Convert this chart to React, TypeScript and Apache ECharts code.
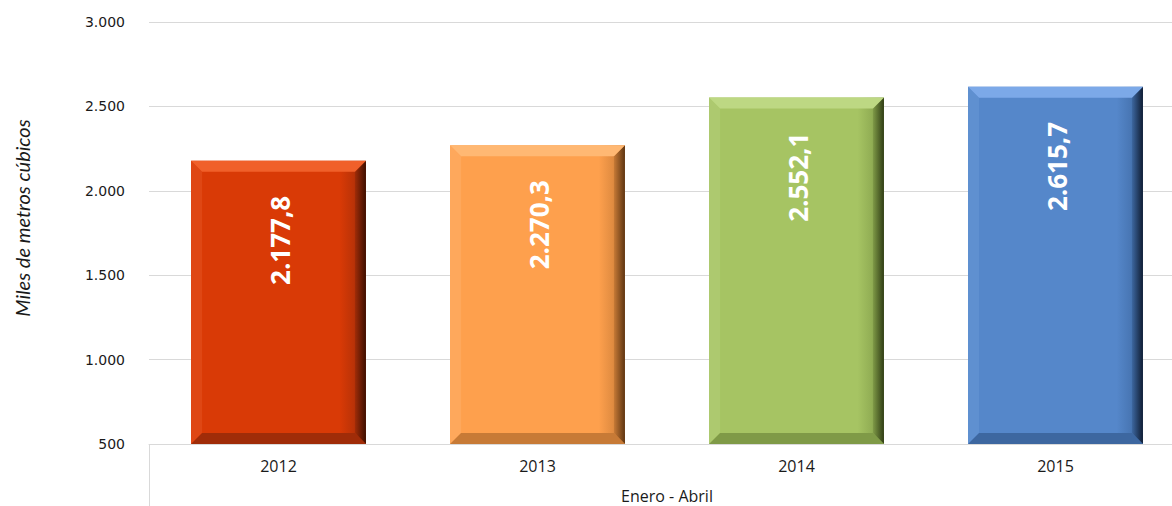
import React, { useEffect, useRef } from "react";
import * as echarts from "echarts";

const categories = ["2012", "2013", "2014", "2015"];
const values = [2177.8, 2270.3, 2552.1, 2615.7];
const yMin = 500;
const yMax = 3000;
const yStep = 500;
const axisTitle = "Miles de metros cúbicos";
const groupTitle = "Enero - Abril";

const palette = [
  { base: "#D93A06", light: "#F0602A", side: "#DF4714", bottom: "#A02C08", dark: "#3E0F00" },
  { base: "#FEA04D", light: "#FFB873", side: "#FEA85C", bottom: "#C77A36", dark: "#5E3512" },
  { base: "#A6C463", light: "#BDD883", side: "#ADC96F", bottom: "#7F9A47", dark: "#303D15" },
  { base: "#5587CA", light: "#7CA9E8", side: "#5F90D0", bottom: "#3D67A0", dark: "#101D33" },
];

function fmtThousands(v: number): string {
  return String(Math.round(v)).replace(/\B(?=(\d{3})+(?!\d))/g, ".");
}
function fmtValue(v: number): string {
  const [i, d] = v.toFixed(1).split(".");
  return fmtThousands(Number(i)) + "," + d;
}

export default function App() {
  const ref = useRef<HTMLDivElement>(null);
  useEffect(() => {
    if (!ref.current) return;
    const chart = echarts.init(ref.current, undefined, { renderer: "svg" });
    const gridLeft = 149;
    const gridTop = 22;
    const gridH = 422;
    chart.setOption({
      animation: false,
      backgroundColor: "#ffffff",
      grid: {
        left: gridLeft,
        top: gridTop,
        width: 1036,
        height: gridH,
        containLabel: false,
        outerBoundsMode: "none",
      },
      xAxis: {
        type: "category",
        data: categories,
        axisLine: { show: true, lineStyle: { color: "#d9d9d9", width: 1 } },
        axisTick: { show: false },
        axisLabel: {
          margin: 14,
          fontFamily: "'Open Sans', sans-serif",
          fontSize: 16,
          color: "#1a1a1a",
        },
        name: groupTitle,
        nameLocation: "middle",
        nameGap: 44,
        nameTextStyle: {
          fontFamily: "'Open Sans', sans-serif",
          fontSize: 16,
          color: "#1a1a1a",
        },
      },
      yAxis: {
        type: "value",
        min: yMin,
        max: yMax,
        interval: yStep,
        axisLine: { show: false },
        axisTick: { show: false },
        splitLine: { show: true, lineStyle: { color: "#d9d9d9", width: 1 } },
        axisLabel: {
          margin: 24,
          fontFamily: "'DejaVu Sans', Verdana, sans-serif",
          fontSize: 14,
          color: "#1a1a1a",
          formatter: (v: number) => fmtThousands(v),
        },
      },
      graphic: [
        {
          type: "text",
          x: 22,
          y: 218,
          rotation: Math.PI / 2,
          style: {
            text: axisTitle,
            font: "italic 20px Lato, 'Open Sans', sans-serif",
            fill: "#1a1a1a",
            align: "center",
            verticalAlign: "middle",
          },
        },
        {
          type: "line",
          shape: { x1: 149.5, y1: 444, x2: 149.5, y2: 506 },
          style: { stroke: "#d9d9d9", lineWidth: 1 },
        },
      ],
      series: [
        {
          type: "custom",
          data: values.map((v, i) => [i, v]),
          encode: { x: 0, y: 1 },
          renderItem: (params: any, api: any) => {
            const idx = api.value(0);
            const val = api.value(1);
            const topPt = api.coord([idx, val]);
            const basePt = api.coord([idx, yMin]);
            const w = api.size([1, 0])[0] * 0.675;
            const cx = topPt[0];
            const x0 = cx - w / 2;
            const x1 = cx + w / 2;
            const yT = topPt[1];
            const yB = basePt[1];
            const b = 11;
            const c = palette[idx % palette.length];
            return {
              type: "group",
              children: [
                {
                  type: "rect",
                  shape: { x: x0, y: yT, width: w, height: yB - yT },
                  style: {
                    fill: new echarts.graphic.LinearGradient(0, 0, 1, 0, [
                      { offset: 0, color: c.base },
                      { offset: 0.85, color: c.base },
                      { offset: 1, color: c.bottom },
                    ]),
                  },
                },
                {
                  type: "polygon",
                  shape: { points: [[x0, yT], [x0 + b, yT + b], [x0 + b, yB - b], [x0, yB]] },
                  style: { fill: c.side },
                },
                {
                  type: "polygon",
                  shape: { points: [[x1, yT], [x1, yB], [x1 - b, yB - b], [x1 - b, yT + b]] },
                  style: {
                    fill: new echarts.graphic.LinearGradient(0, 0, 1, 0, [
                      { offset: 0, color: c.bottom },
                      { offset: 1, color: c.dark },
                    ]),
                  },
                },
                {
                  type: "polygon",
                  shape: { points: [[x0, yB], [x1, yB], [x1 - b, yB - b], [x0 + b, yB - b]] },
                  style: { fill: c.bottom },
                },
                {
                  type: "polygon",
                  shape: { points: [[x0, yT], [x1, yT], [x1 - b, yT + b], [x0 + b, yT + b]] },
                  style: { fill: c.light },
                },
                {
                  type: "text",
                  x: cx + 1,
                  y: yT + 35,
                  rotation: Math.PI / 2,
                  style: {
                    text: fmtValue(val),
                    font: "bold 26px 'Open Sans', sans-serif",
                    fill: "#ffffff",
                    align: "right",
                    verticalAlign: "middle",
                  },
                },
              ],
            };
          },
        },
      ],
    });
    return () => chart.dispose();
  }, []);
  return (
    <div
      ref={ref}
      style={{ position: "absolute", left: 0, top: 0, width: 1172, height: 506 }}
    />
  );
}
